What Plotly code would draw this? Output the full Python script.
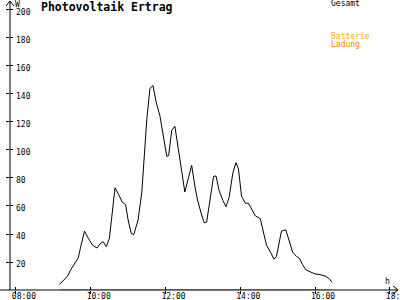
import plotly.graph_objects as go

# ---- data ----
times = ["09:10","09:16","09:23","09:28","09:34","09:40","09:44","09:50","09:56","10:03",
         "10:10","10:15","10:20","10:25","10:30","10:35","10:39","10:45","10:51","10:56",
         "11:00","11:05","11:09","11:16","11:22","11:30","11:35","11:40","11:45","11:51",
         "11:57","12:02","12:05","12:10","12:15","12:20","12:26","12:31","12:37","12:42",
         "12:47","12:51","12:57","13:02","13:06","13:12","13:17","13:21","13:26","13:32",
         "13:37","13:42","13:48","13:53","13:57","14:02","14:08","14:13","14:18","14:24",
         "14:32","14:37","14:42","14:49","14:54","14:58","15:06","15:13","15:19","15:24",
         "15:30","15:35","15:40","15:45","15:52","16:00","16:08","16:16","16:23","16:27"]
gesamt = [4, 7, 10, 14.5, 19, 23, 31, 42, 37, 32,
          30, 33, 34.5, 31, 37, 57, 73, 68, 62.5, 61,
          50, 40.5, 39.5, 50, 70, 122, 144, 146, 134, 124.5,
          110, 95.5, 96, 114, 117, 102, 86.5, 70, 80.5, 89,
          74.5, 65, 55, 48, 48.5, 65, 81, 81.5, 71, 64,
          59.5, 66, 83.5, 91, 86.5, 67, 62, 62, 57.5, 53,
          51, 40.5, 32, 26.5, 22, 24, 42, 43, 35, 27,
          24, 22.5, 18, 14.5, 13, 11.5, 11, 10, 8, 5.5]
ladung_times = ["09:10", "16:27"]
ladung = [0, 0]
y_ticks = [20, 40, 60, 80, 100, 120, 140, 160, 180, 200]
x_ticks = ["08:00", "10:00", "12:00", "14:00", "16:00", "18:00"]

def hrs(t):
    h, m = t.split(":")
    return int(h) + int(m) / 60.0

W, H = 400, 300
L, R, T, B = 10, 2, 2, 10
PW, PH = W - L - R, H - T - B
def px(x):
    return (x - L) / PW
def py(y):
    return (H - B - y) / PH

FONT = "DejaVu Sans Mono"
X_RANGE = [hrs("07:50") + 0.5 / 60, hrs("18:13")]
Y_RANGE = [0, 205.7]

fig = go.Figure()
fig.add_trace(go.Scatter(x=[hrs(t) for t in times], y=gesamt, mode="lines",
                         line=dict(color="black", width=1), name="Gesamt"))
fig.add_trace(go.Scatter(x=[hrs(t) for t in ladung_times], y=ladung, mode="lines",
                         line=dict(color="#FF8000", width=1.5), name="Ladung", cliponaxis=False))
# invisible helper trace so the overlay axes (inner half of the crossing ticks) render
fig.add_trace(go.Scatter(x=[hrs(x_ticks[0])], y=[0], xaxis="x2", yaxis="y2", mode="markers",
                         marker=dict(opacity=0), hoverinfo="skip", showlegend=False))

tick_common = dict(ticklen=3, tickcolor="black", tickwidth=1, showgrid=False,
                   zeroline=False, showline=False, automargin=False)
fig.update_layout(
    width=W, height=H, margin=dict(l=L, r=R, t=T, b=B, autoexpand=False),
    paper_bgcolor="white", plot_bgcolor="white", showlegend=False,
    font=dict(family=FONT, size=8, color="black"),
    xaxis=dict(range=X_RANGE, tickvals=[hrs(t) for t in x_ticks], ticktext=x_ticks,
               ticks="outside", tickfont=dict(family=FONT, size=8, color="black"),
               ticklabelshift=8, ticklabelstandoff=-5, ticklabeloverflow="allow",
               **tick_common),
    yaxis=dict(range=Y_RANGE, tickvals=y_ticks, ticks="outside",
               ticklabelposition="inside", ticklabelstandoff=3, ticklabelshift=2,
               ticklabeloverflow="allow",
               tickfont=dict(family=FONT, size=8, color="black"), **tick_common),
    xaxis2=dict(range=X_RANGE, overlaying="x", anchor="y2", tickvals=[hrs(t) for t in x_ticks],
                ticks="inside", showticklabels=False, **tick_common),
    yaxis2=dict(range=Y_RANGE, overlaying="y", anchor="x2", tickvals=y_ticks,
                ticks="inside", showticklabels=False, **tick_common),
)

shapes = []
# axis lines
shapes.append(dict(type="line", xref="paper", yref="paper", x0=px(0), x1=px(398),
                   y0=py(290), y1=py(290), line=dict(color="black", width=1)))
shapes.append(dict(type="line", xref="paper", yref="paper", x0=px(10), x1=px(10),
                   y0=py(290), y1=py(1), line=dict(color="black", width=1)))
# arrow heads
shapes.append(dict(type="path", xref="paper", yref="paper",
                   path=f"M {px(393)} {py(286)} L {px(398)} {py(290)} L {px(393)} {py(294)}",
                   line=dict(color="black", width=1)))
shapes.append(dict(type="path", xref="paper", yref="paper",
                   path=f"M {px(6)} {py(6)} L {px(10)} {py(1)} L {px(14)} {py(6)}",
                   line=dict(color="black", width=1)))
fig.update_layout(shapes=shapes)

def note(text, x, y, color="black", size=8, xanchor="left"):
    return dict(text=text, x=px(x), y=py(y), xref="paper", yref="paper",
                xanchor=xanchor, yanchor="middle", showarrow=False,
                font=dict(family=FONT, size=size, color=color))

ann = [
    note("<b>Photovoltaik Ertrag</b>", 39, 7, size=11.5),
    note("W", 13, 5),
    note("h", 387, 281, xanchor="center"),
    note("Gesamt", 329, 4),
    note("Batterie", 329, 36, color="#FFB000"),
    note("Ladung", 329, 44, color="#FF8000"),
]
fig.update_layout(annotations=ann)

fig.write_html("out.html")
